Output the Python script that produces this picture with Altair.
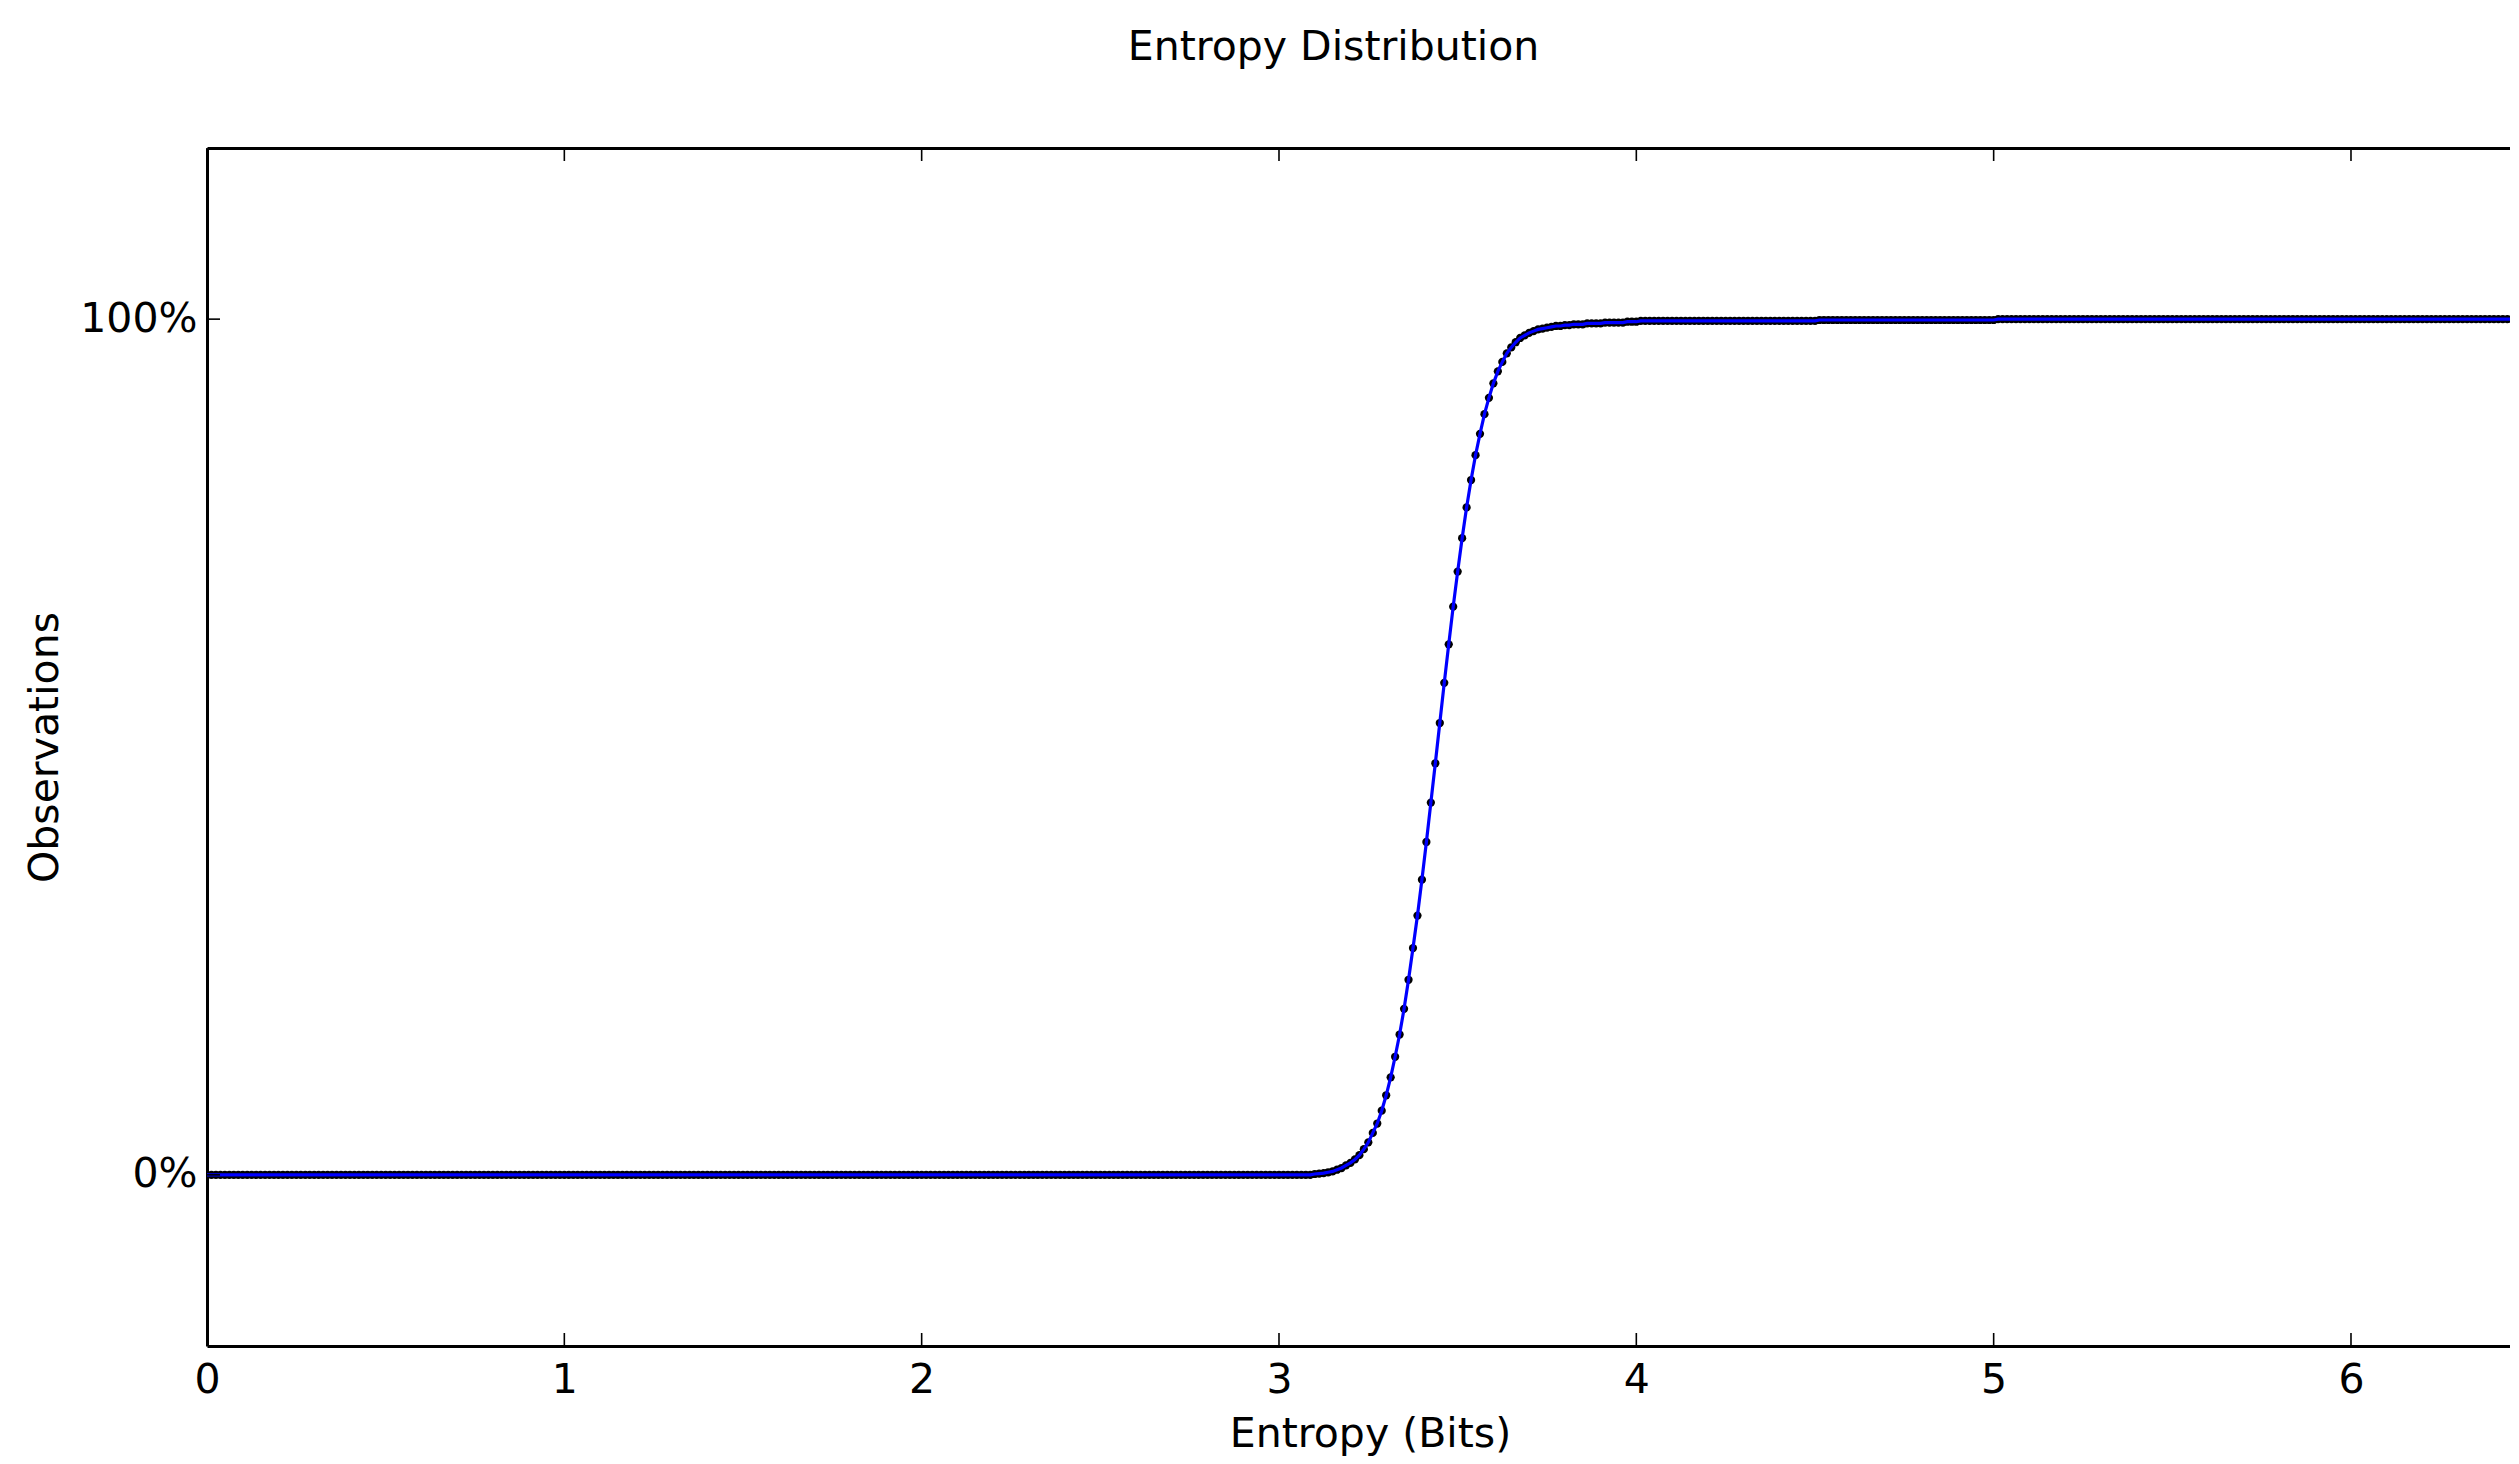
import altair as alt
import pandas as pd

TITLE = "Entropy Distribution"
X_LABEL = "Entropy (Bits)"
Y_LABEL = "Observations"
FONT = "DejaVu Sans"

# Observations are plotted every 0.0125 bits (dot spacing)
STEP = 0.0125
# 0.0000 .. 3.0875 : flat at 0 %
LOW_FLAT = [0.0] * 248
# 3.1000 .. 4.0000 : the rise, read point by point
RISE = [
    0.001, 0.0015, 0.002, 0.003, 0.004, 0.006, 0.008, 0.011, 0.014, 0.018,
    0.023, 0.030, 0.038, 0.049, 0.060, 0.075, 0.093, 0.114, 0.138, 0.164,
    0.194, 0.228, 0.265, 0.303, 0.345, 0.389, 0.435, 0.481, 0.528, 0.575,
    0.620, 0.664, 0.705, 0.744, 0.780, 0.812, 0.841, 0.866, 0.889, 0.908,
    0.925, 0.939, 0.950, 0.960, 0.967, 0.973, 0.978, 0.981, 0.984, 0.986,
    0.988, 0.989, 0.990, 0.991, 0.992, 0.992, 0.993, 0.993, 0.994, 0.994,
    0.994, 0.995, 0.995, 0.995, 0.995, 0.996, 0.996, 0.996, 0.996, 0.996,
    0.997, 0.997, 0.997,
]
# 4.0125 .. 4.5000
HIGH_A = [0.998] * 40
# 4.5125 .. 5.0000
HIGH_B = [0.999] * 40
# 5.0125 .. 6.5000 : flat at 100 %
HIGH_FLAT = [1.0] * 120

X_TICKS = [0, 1, 2, 3, 4, 5, 6]
Y_TICKS = [0.0, 1.0]

ys = LOW_FLAT + RISE + HIGH_A + HIGH_B + HIGH_FLAT
xs = [round(i * STEP, 4) for i in range(len(ys))]
df = pd.DataFrame({"x": xs, "y": ys})
xt = pd.DataFrame({"t": X_TICKS})
yt = pd.DataFrame({"t": Y_TICKS})

W, H = 2303, 1198
TICK = 13

xscale = alt.Scale(domain=[0, 6.445], nice=False, zero=False)
yscale = alt.Scale(domain=[-0.2, 1.2], nice=False, zero=False)

points = alt.Chart(df).mark_circle(size=68, color="black", opacity=1, clip=True).encode(
    x=alt.X(
        "x:Q", scale=xscale,
        axis=alt.Axis(
            orient="bottom", values=X_TICKS, format="d", title=X_LABEL,
            ticks=False, tickSize=0, labelPadding=14, labelFlush=False,
            titleX=1163, titleY=100, titleBaseline="alphabetic", titleAlign="center",
        ),
    ),
    y=alt.Y(
        "y:Q", scale=yscale,
        axis=alt.Axis(
            orient="left", values=Y_TICKS, format="%", title=Y_LABEL,
            ticks=False, tickSize=0, labelPadding=10, labelFlush=False,
            titleAngle=270, titleX=-150, titleY=599, titleAlign="center",
            titleBaseline="alphabetic",
        ),
    ),
)

line = alt.Chart(df).mark_line(color="#0000ff", strokeWidth=3.2, clip=True).encode(
    x=alt.X("x:Q", scale=xscale,
            axis=alt.Axis(orient="top", labels=False, ticks=False, tickSize=0, title="")),
    y=alt.Y("y:Q", scale=yscale, axis=None),
)

bottom_ticks = alt.Chart(xt).mark_rule(color="black", strokeWidth=1.6).encode(
    x=alt.X("t:Q", scale=xscale, axis=None),
    y=alt.value(H), y2=alt.value(H - TICK),
)
top_ticks = alt.Chart(xt).mark_rule(color="black", strokeWidth=1.6).encode(
    x=alt.X("t:Q", scale=xscale, axis=None),
    y=alt.value(0), y2=alt.value(TICK),
)
left_ticks = alt.Chart(yt).mark_rule(color="black", strokeWidth=1.6).encode(
    y=alt.Y("t:Q", scale=yscale, axis=None),
    x=alt.value(0), x2=alt.value(TICK),
)

chart = (
    alt.layer(points, line, bottom_ticks, top_ticks, left_ticks)
    .resolve_axis(x="independent", y="independent")
    .properties(
        width=W, height=H,
        autosize=alt.AutoSizeParams(type="none"),
        padding={"left": 199, "top": 140, "right": 0, "bottom": 110},
        title=alt.TitleParams(
            TITLE, fontSize=41, font=FONT, fontWeight="normal", color="black",
            anchor="middle", frame="group", dx=-25, baseline="alphabetic", offset=46,
        ),
    )
    .configure_view(strokeWidth=0)
    .configure_axis(
        grid=False, domainColor="black", domainWidth=3,
        labelFont=FONT, labelFontSize=41, labelColor="black",
        titleFont=FONT, titleFontSize=41, titleFontWeight="normal", titleColor="black",
    )
)

chart.save("out.html", embed_options={"renderer": "svg", "actions": False})
